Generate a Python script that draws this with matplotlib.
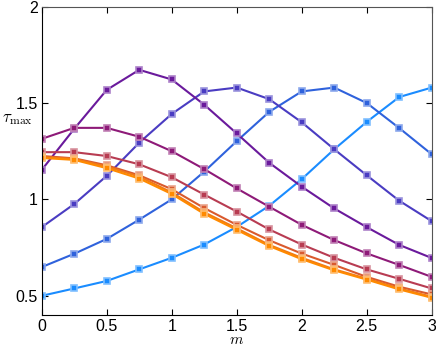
import numpy as np
import matplotlib
matplotlib.use("Agg")
import matplotlib.pyplot as plt
from matplotlib.colors import to_rgb

# m values on the x axis
m = [0, 0.25, 0.5, 0.75, 1, 1.25, 1.5, 1.75, 2, 2.25, 2.5, 2.75, 3]

# tau_max curves (light blue -> orange)
tau_lightblue = [0.50, 0.538, 0.577, 0.637, 0.697, 0.766, 0.857, 0.967, 1.105, 1.26, 1.402, 1.531, 1.58]
tau_blue = [0.649, 0.718, 0.795, 0.895, 1.0, 1.144, 1.302, 1.454, 1.56, 1.58, 1.50, 1.37, 1.234]
tau_indigo = [0.856, 0.976, 1.122, 1.294, 1.443, 1.56, 1.58, 1.52, 1.40, 1.26, 1.125, 0.993, 0.887]
tau_violet = [1.153, 1.366, 1.568, 1.672, 1.622, 1.491, 1.342, 1.19, 1.066, 0.953, 0.856, 0.764, 0.696]
tau_magenta = [1.314, 1.371, 1.371, 1.325, 1.25, 1.157, 1.057, 0.962, 0.868, 0.789, 0.72, 0.66, 0.598]
tau_red = [1.245, 1.245, 1.225, 1.182, 1.115, 1.025, 0.937, 0.844, 0.766, 0.697, 0.637, 0.588, 0.538]
tau_orangered = [1.225, 1.213, 1.177, 1.125, 1.053, 0.955, 0.868, 0.788, 0.719, 0.66, 0.598, 0.547, 0.507]
tau_orange = [1.22, 1.21, 1.17, 1.118, 1.036, 0.933, 0.85, 0.764, 0.697, 0.637, 0.589, 0.538, 0.495]
tau_orange2 = [1.215, 1.205, 1.162, 1.108, 1.028, 0.925, 0.842, 0.758, 0.69, 0.632, 0.584, 0.533, 0.49]

series = [tau_lightblue, tau_blue, tau_indigo, tau_violet, tau_magenta,
          tau_red, tau_orangered, tau_orange, tau_orange2]
colors = ["#1a8cff", "#2f62dc", "#4a3cc2", "#6a1a9c", "#8e1a78",
          "#b83c52", "#d95a2e", "#f07a18", "#ff8a00"]

plt.rcParams['font.family'] = ['Liberation Sans', 'DejaVu Sans']
plt.rcParams['mathtext.fontset'] = 'cm'

fig = plt.figure(figsize=(4.36, 3.47), dpi=100)
ax = fig.add_axes([0.0957, 0.092, 0.8945, 0.889])

for y, c in zip(series, colors):
    rgb = np.array(to_rgb(c))
    light = 1 - 0.55 * (1 - rgb)  # paler halo round each marker
    ax.plot(m, y, color=c, lw=1.5, marker='s', ms=5,
            mfc=c, mec=light, mew=1.2)

ax.set_xlim(0, 3)
ax.set_ylim(0.4, 2)
ax.set_xticks([0, 0.5, 1, 1.5, 2, 2.5, 3])
ax.set_xticklabels(['0', '0.5', '1', '1.5', '2', '2.5', '3'])
ax.set_yticks([0.5, 1, 1.5, 2])
ax.set_yticklabels(['0.5', '1', '1.5', '2'])
ax.tick_params(direction='in', top=True, right=True, labelsize=11.5,
               length=4, width=0.8)
ax.tick_params(axis='x', pad=2.5)
ax.tick_params(axis='y', pad=3)

for side in ['top', 'right']:
    ax.spines[side].set_color('#555555')
for side in ['left', 'bottom']:
    ax.spines[side].set_color('black')

ax.set_xlabel(r'$m$', fontsize=11, labelpad=-0.3)
ax.set_ylabel(r'$\tau_{\max}$', fontsize=12, rotation=0)
ax.yaxis.set_label_coords(-0.063, 0.61)

fig.savefig("out.png", dpi=100)
